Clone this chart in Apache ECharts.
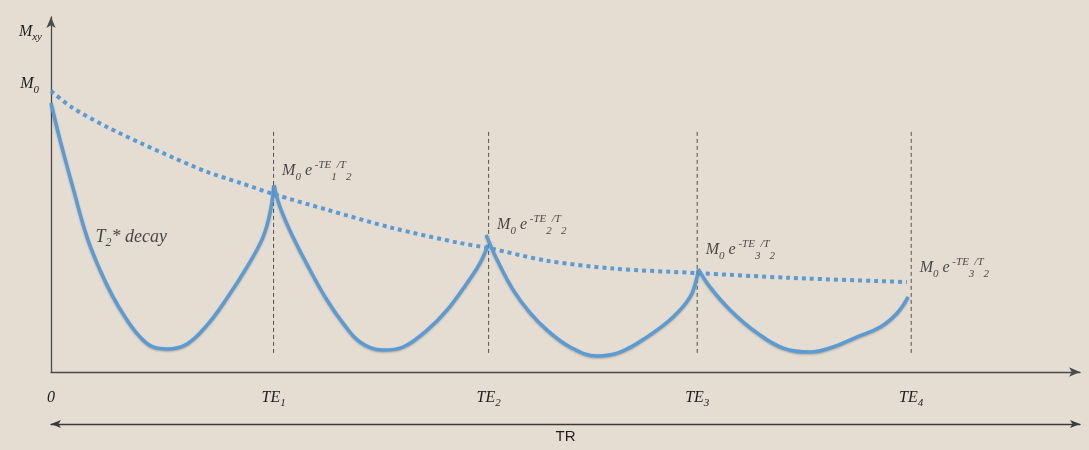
<!DOCTYPE html>
<html>
<head>
<meta charset="utf-8">
<title>T2 decay / spin echo</title>
<script src="https://cdn.jsdelivr.net/npm/echarts@6.0.0/dist/echarts.min.js"></script>
<style>
  html, body { margin: 0; padding: 0; background: #e5ddd1; }
  #chart { width: 1089px; height: 450px; }
</style>
</head>
<body>
<div id="chart"></div>
<script>
// 回波时间 TE1..TE4 (横轴单位: ms, 读图估计)
var teTimes = [20.7, 40.7, 60.1, 80.0];
var teNames = ['TE1', 'TE2', 'TE3', 'TE4'];
// 每个回波峰值标注里的下标 (原图第四个也写的是 3)
var echoIdx = [1, 2, 3, 3];
// 包络 M0 e^(-t/T2) 在各 TE 处的值
var teEnv = [0.633, 0.441, 0.352, 0.32];

// T2 包络 (点线)
var envT = [0, 2, 5.2, 8.3, 11.4, 14.5, 17.6, 20.7, 25.7, 31.8, 38.0, 40.7, 46.1, 52.3, 60.1, 68.7, 79.6];
var envM = [1.0, 0.94, 0.872, 0.815, 0.762, 0.712, 0.673, 0.633, 0.577, 0.512, 0.459, 0.441, 0.396, 0.368, 0.352, 0.335, 0.32];

// T2* 衰减 + 回波 (实线, 四段)
var seg1T = [0, 0.84, 2.05, 3.35, 4.56, 5.77, 7.07, 8.28, 9.49, 10.79, 12.65, 14.51, 16.37, 18.23, 19.72, 20.37, 20.74];
var seg1M = [0.957, 0.826, 0.655, 0.480, 0.363, 0.267, 0.185, 0.125, 0.089, 0.082, 0.100, 0.167, 0.263, 0.374, 0.480, 0.566, 0.665];
var seg2T = [20.74, 21.30, 22.51, 24.09, 25.67, 27.16, 28.74, 30.88, 32.74, 34.98, 36.84, 38.70, 39.91, 40.65];
var seg2M = [0.665, 0.587, 0.480, 0.363, 0.256, 0.174, 0.107, 0.078, 0.089, 0.149, 0.221, 0.317, 0.388, 0.452];
var seg3T = [40.47, 41.49, 42.98, 44.56, 46.14, 48.28, 50.79, 52.93, 55.44, 57.86, 59.44, 60.09, 60.19];
var seg3M = [0.488, 0.399, 0.292, 0.210, 0.149, 0.089, 0.057, 0.071, 0.125, 0.196, 0.267, 0.338, 0.363];
var seg4T = [60.19, 61.30, 63.16, 65.67, 68.09, 70.60, 72.74, 74.98, 77.12, 78.70, 79.72];
var seg4M = [0.367, 0.302, 0.221, 0.139, 0.085, 0.071, 0.089, 0.125, 0.160, 0.210, 0.267];

// 虚线竖线的上下端
var markLow = 0.068;
var markHigh = 0.855;

var xMax = 95.7;
var yMax = 1.263;

var BLUE = '#5b9bd5';
var INK = '#1e1e1e';
var SERIF = '"Liberation Serif", "DejaVu Serif", serif';

function zip(a, b) {
    return a.map(function (v, i) { return [v, b[i]]; });
}

var mathRich = {
    m:   { fontFamily: SERIF, fontStyle: 'italic', fontSize: 16, color: INK, lineHeight: 23 },
    s:   { fontFamily: SERIF, fontStyle: 'italic', fontSize: 11, color: INK, verticalAlign: 'bottom' },
    sup: { fontFamily: SERIF, fontStyle: 'italic', fontSize: 11, color: INK, verticalAlign: 'top' },
    ss:  { fontFamily: SERIF, fontStyle: 'italic', fontSize: 11, color: INK, verticalAlign: 'bottom' },
    big: { fontFamily: SERIF, fontStyle: 'italic', fontSize: 18, color: INK, lineHeight: 24 },
    bs:  { fontFamily: SERIF, fontStyle: 'italic', fontSize: 12, color: INK, verticalAlign: 'bottom' }
};

function echoText(n) {
    return '{m|M}{s|0}{m| e}{sup| -TE}{ss|' + n + '}{sup|/T}{ss|2}';
}

var segStyle = {
    color: BLUE, width: 3.5,
    shadowColor: 'rgba(0,0,0,0.25)', shadowBlur: 2, shadowOffsetY: 1
};

var series = [];
// 包络点线
series.push({
    type: 'line', data: zip(envT, envM), smooth: 0.3, showSymbol: false,
    lineStyle: { color: BLUE, width: 4, type: [4, 4] }, z: 3
});
// 实线四段
[[seg1T, seg1M], [seg2T, seg2M], [seg3T, seg3M], [seg4T, seg4M]].forEach(function (s) {
    series.push({
        type: 'line', data: zip(s[0], s[1]), smooth: 0.4, showSymbol: false,
        lineStyle: segStyle, z: 4
    });
});
// TE 处虚线竖线
teTimes.forEach(function (te) {
    series.push({
        type: 'line', data: [[te, markLow], [te, markHigh]], showSymbol: false,
        lineStyle: { color: '#505050', width: 1, type: [4, 3] }, z: 2
    });
});
// 回波峰值标注
var annData = teTimes.map(function (te, i) {
    return {
        value: [te, teEnv[i]],
        label: {
            show: true, position: 'right', distance: 8,
            offset: [0, i === 3 ? -14 : -23],
            formatter: echoText(echoIdx[i]), rich: mathRich
        }
    };
});
// T2* decay 文字
annData.push({
    value: [seg1T[3], seg1M[3]],
    label: {
        show: true, position: 'right', distance: 8,
        formatter: '{big|T}{bs|2}{big|* decay}', rich: mathRich
    }
});
series.push({
    type: 'scatter', data: annData, symbolSize: 1,
    itemStyle: { color: 'rgba(0,0,0,0)' }, silent: true, z: 5
});

var chart = echarts.init(document.getElementById('chart'));
chart.setOption({
    animation: false,
    backgroundColor: '#e5ddd1',
    grid: { left: 51, right: 9, top: 17, bottom: 78 },
    xAxis: [{
        type: 'value', min: 0, max: xMax,
        axisLine: { show: true, symbol: ['none', 'arrow'], symbolSize: [7, 11],
            lineStyle: { color: '#4a4a4a', width: 1.3 } },
        axisTick: { show: false },
        splitLine: { show: false },
        axisLabel: {
            customValues: [0].concat(teTimes),
            margin: 14,
            formatter: function (v) {
                var i = teTimes.indexOf(v);
                if (i < 0) return '{m|0}';
                return '{m|TE}{s|' + teNames[i].slice(2) + '}';
            },
            rich: mathRich
        }
    }, {
        type: 'value', min: 0, max: xMax, position: 'bottom', offset: 52,
        axisLine: { show: true, symbol: ['arrow', 'arrow'], symbolSize: [6, 10],
            lineStyle: { color: '#3a3a3a', width: 1.3 } },
        axisTick: { show: false },
        axisLabel: { show: false },
        splitLine: { show: false },
        name: 'TR', nameLocation: 'middle', nameGap: 5,
        nameTextStyle: { fontFamily: '"Liberation Sans", Arial, sans-serif', fontSize: 15, color: INK }
    }],
    yAxis: {
        type: 'value', min: 0, max: yMax,
        axisLine: { show: true, symbol: ['none', 'arrow'], symbolSize: [7, 11],
            lineStyle: { color: '#4a4a4a', width: 1.3 } },
        axisTick: { show: false },
        splitLine: { show: false },
        axisLabel: {
            customValues: [1],
            margin: 12,
            formatter: function () { return '{m|M}{s|0}'; },
            rich: mathRich,
            padding: [0, 0, 14, 0]
        },
        name: '{m|M}{s|xy}', nameLocation: 'end', nameGap: -26,
        nameTextStyle: { align: 'right', padding: [0, 9, 0, 0], rich: mathRich }
    },
    series: series
});
</script>
</body>
</html>
